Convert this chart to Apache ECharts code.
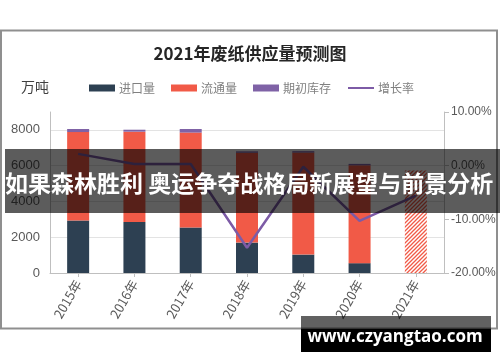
<!DOCTYPE html>
<html>
<head>
<meta charset="utf-8">
<script src="https://cdn.jsdelivr.net/npm/echarts@6/dist/echarts.min.js"></script>
<style>
html,body{margin:0;padding:0;background:#fff;}
#chart{width:500px;height:362px;}
</style>
</head>
<body>
<div id="chart"></div>
<script>
var categories = ['2015年','2016年','2017年','2018年','2019年','2020年','2021年'];
var importVol = [2940, 2850, 2550, 1700, 1030, 550, 0];
var circulation = [4940, 5050, 5300, 5020, 5700, 5470, 5730];
var openingStock = [170, 110, 200, 80, 80, 80, 0];
var growthRate = [2.2, 0.3, 0.3, -15.3, -0.2, -10.3, -5.6];
var leftTicks = [0, 2000, 4000, 6000, 8000];
var rightTicks = [-20, -10, 0, 10];

var C_IMPORT = '#2d4052';
var C_CIRC = '#f15a47';
var C_STOCK = '#7f62a6';
var C_LINE = '#7d5ba6';
var FONT = "'Noto Sans CJK SC', 'Liberation Sans', sans-serif";

// hatched pattern for forecast bar
var pc = document.createElement('canvas');
pc.width = 4; pc.height = 4;
var pctx = pc.getContext('2d');
pctx.fillStyle = '#ffffff';
pctx.fillRect(0, 0, 4, 4);
pctx.strokeStyle = C_CIRC;
pctx.lineWidth = 1.3;
pctx.beginPath();
pctx.moveTo(0, 4); pctx.lineTo(4, 0);
pctx.moveTo(-1, 1); pctx.lineTo(1, -1);
pctx.moveTo(3, 5); pctx.lineTo(5, 3);
pctx.stroke();

var circData = circulation.map(function (v, i) {
  if (i === categories.length - 1) {
    return { value: v, itemStyle: { color: { image: pc, repeat: 'repeat' } } };
  }
  return v;
});

var chart = echarts.init(document.getElementById('chart'), null, { renderer: 'canvas' });
chart.setOption({
  backgroundColor: '#ffffff',
  animation: false,
  textStyle: { fontFamily: FONT },
  title: {
    text: '2021年废纸供应量预测图',
    left: 'center',
    top: 40,
    textStyle: { fontSize: 17, fontWeight: 'bold', color: '#262626', fontFamily: FONT }
  },
  legend: {
    left: 84,
    top: 77,
    itemWidth: 26,
    itemHeight: 7,
    itemGap: 16,
    textStyle: { fontSize: 12, color: '#808080', fontFamily: FONT, padding: [0, 0, 0, -1] },
    data: [
      { name: '进口量', icon: 'rect' },
      { name: '流通量', icon: 'rect' },
      { name: '期初库存', icon: 'rect' },
      { name: '增长率', itemStyle: { color: 'rgba(0,0,0,0)', borderWidth: 0 } }
    ]
  },
  grid: { left: 50, right: 56, top: 112, bottom: 89, containLabel: false },
  xAxis: {
    type: 'category',
    data: categories,
    boundaryGap: true,
    axisLine: { show: true, lineStyle: { color: '#bfbfbf', width: 1 } },
    axisTick: { show: true, alignWithLabel: true, length: 4, lineStyle: { color: '#bfbfbf' } },
    axisLabel: { rotate: 60, fontSize: 13, color: '#595959', margin: 8, fontFamily: FONT }
  },
  yAxis: [
    {
      type: 'value',
      min: 0,
      max: 9000,
      interval: 2000,
      axisLine: { show: true, lineStyle: { color: '#bfbfbf' } },
      axisTick: { show: false },
      splitLine: { show: true, showMaxLine: false, lineStyle: { color: '#e3e3e3', width: 1 } },
      axisLabel: {
        showMaxLabel: false,
        fontSize: 13, color: '#595959', margin: 10, fontFamily: "'Liberation Sans', sans-serif",
        formatter: function (v) { return leftTicks.indexOf(v) >= 0 ? String(v) : ''; }
      }
    },
    {
      type: 'value',
      min: -20,
      max: 10,
      interval: 10,
      position: 'right',
      axisLine: { show: true, lineStyle: { color: '#bfbfbf' } },
      axisTick: { show: true, inside: false, length: 5, lineStyle: { color: '#bfbfbf' } },
      splitLine: { show: false },
      axisLabel: {
        fontSize: 12, color: '#595959', margin: 7, fontFamily: "'Liberation Sans', sans-serif",
        formatter: function (v) { return rightTicks.indexOf(v) >= 0 ? v.toFixed(2) + '%' : ''; }
      }
    }
  ],
  series: [
    {
      name: '进口量', type: 'bar', stack: 'total', barWidth: 22,
      itemStyle: { color: C_IMPORT }, data: importVol
    },
    {
      name: '流通量', type: 'bar', stack: 'total', barWidth: 22,
      itemStyle: { color: C_CIRC }, data: circData
    },
    {
      name: '期初库存', type: 'bar', stack: 'total', barWidth: 22,
      itemStyle: { color: C_STOCK }, data: openingStock
    },
    {
      name: '增长率', type: 'line', yAxisIndex: 1, symbol: 'none',
      lineStyle: { color: C_LINE, width: 2.5 }, itemStyle: { color: C_LINE },
      data: growthRate, z: 5
    }
  ],
  graphic: [
    {
      type: 'rect', z: -1, silent: true,
      shape: { x: 1, y: 30.5, width: 496, height: 298 },
      style: { fill: 'none', stroke: '#8f8f8f', lineWidth: 2 }
    },
    {
      type: 'text', left: 21, top: 80, silent: true,
      style: { text: '万吨', fontSize: 14, fill: '#404040', fontFamily: FONT }
    },
    {
      type: 'rect', z: 100, silent: true,
      shape: { x: 5, y: 149, width: 495, height: 64 },
      style: { fill: 'rgba(0,0,0,0.64)' }
    },
    {
      type: 'text', z: 101, silent: true, x: 5, y: 183,
      style: {
        text: '如果森林胜利 奥运争夺战格局新展望与前景分析',
        fontSize: 23, fontWeight: 'bold', fill: '#ffffff',
        fontFamily: FONT, textVerticalAlign: 'middle', verticalAlign: 'middle'
      }
    },
    {
      type: 'rect', z: 100, silent: true,
      shape: { x: 301, y: 316, width: 190, height: 12.5 },
      style: { fill: 'rgba(0,0,0,0.62)' }
    },
    {
      type: 'rect', z: 100, silent: true,
      shape: { x: 301, y: 328.5, width: 190, height: 23.5 },
      style: { fill: '#000000' }
    },
    {
      type: 'text', z: 101, silent: true, x: 395, y: 337,
      style: {
        text: 'www.czyangtao.com', fontSize: 17, fontWeight: 'bold', fill: '#ffffff',
        fontFamily: "'Open Sans', 'Liberation Sans', sans-serif",
        align: 'center', textAlign: 'center', verticalAlign: 'middle', textVerticalAlign: 'middle'
      }
    }
  ]
});
</script>
</body>
</html>
